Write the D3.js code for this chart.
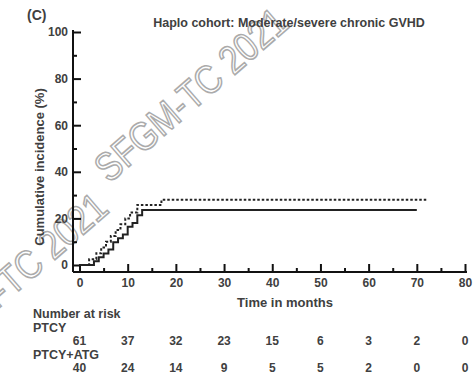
<!DOCTYPE html>
<html>
<head>
<meta charset="utf-8">
<script src="https://cdn.jsdelivr.net/npm/d3@7"></script>
<style>
  body { margin: 0; background: #fff; }
  svg { font-family: "Liberation Sans", Arial, sans-serif; }
</style>
</head>
<body>
<div id="chart"></div>
<script>
// step curves: [month, cumulative incidence %]
const ptcyCurve = [
  [0, 0], [3, 1.6], [4, 3.3], [5, 4.9], [6, 6.6], [7, 9.8], [8, 11.5],
  [9, 13.1], [10, 16.4], [11, 18], [12, 21.3], [13, 23.6], [70, 23.6]
];
const atgCurve = [
  [0, 0], [2, 2.5], [3.5, 5], [4.5, 7.5], [5.5, 10], [6.5, 12.5], [7.5, 15],
  [8.5, 17.5], [9.5, 20], [10.5, 22.5], [12, 25.8], [17, 28], [72, 28]
];

const xTicks = [0, 10, 20, 30, 40, 50, 60, 70, 80];
const yTicks = [0, 20, 40, 60, 80, 100];
const riskPTCY = [61, 37, 32, 23, 15, 6, 3, 2, 0];
const riskATG = [40, 24, 14, 9, 5, 5, 2, 0, 0];

const width = 475, height = 375;
const textColor = "#404040";

const svg = d3.select("#chart").append("svg")
  .attr("width", width)
  .attr("height", height);

// watermark
const wm = svg.append("g").attr("class", "watermark");
[[193, 97], [13, 282]].forEach(p => {
  wm.append("text")
    .attr("transform", `translate(${p[0]},${p[1]}) rotate(-41)`)
    .attr("text-anchor", "middle")
    .attr("dominant-baseline", "middle")
    .attr("textLength", 240)
    .attr("lengthAdjust", "spacingAndGlyphs")
    .style("font-size", "40px")
    .style("fill", "none")
    .style("stroke", "#ababab")
    .style("stroke-width", 1.6)
    .text("SFGM-TC 2021");
});

const x = d3.scaleLinear().domain([0, 80]).range([79.5, 465]);
const y = d3.scaleLinear().domain([0, 100]).range([265, 32]);

const axisY0 = 272, axisX0 = 73;

// x axis
svg.append("g")
  .attr("transform", `translate(0,${axisY0})`)
  .call(d3.axisBottom(x).tickValues(xTicks).tickSizeInner(-8).tickSizeOuter(0).tickPadding(6));
svg.append("g")
  .attr("transform", `translate(0,${axisY0})`)
  .call(d3.axisBottom(x).tickValues(d3.range(5, 80, 10)).tickSizeInner(-4).tickSizeOuter(0).tickFormat(""));

// y axis
svg.append("g")
  .attr("transform", `translate(${axisX0},0)`)
  .call(d3.axisLeft(y).tickValues(yTicks).tickSizeInner(-8).tickSizeOuter(0).tickPadding(5));
svg.append("g")
  .attr("transform", `translate(${axisX0},0)`)
  .call(d3.axisLeft(y).tickValues(d3.range(10, 100, 20)).tickSizeInner(-4).tickSizeOuter(0).tickFormat(""));

svg.selectAll(".domain").remove();
svg.selectAll(".tick line").attr("stroke", "#111").attr("stroke-width", 2);
svg.selectAll(".tick text")
  .style("font-size", "12px")
  .style("font-weight", "bold")
  .style("fill", textColor)
  .style("font-family", "Liberation Sans, Arial, sans-serif");

// axis lines
svg.append("line")
  .attr("x1", axisX0).attr("x2", x(80) + 2)
  .attr("y1", axisY0).attr("y2", axisY0)
  .attr("stroke", "#111").attr("stroke-width", 2);
svg.append("line")
  .attr("x1", axisX0).attr("x2", axisX0)
  .attr("y1", y(100) - 2).attr("y2", axisY0)
  .attr("stroke", "#111").attr("stroke-width", 2);

// curves
const line = d3.line()
  .x(d => x(d[0]))
  .y(d => y(d[1]))
  .curve(d3.curveStepAfter);

svg.append("path")
  .datum(ptcyCurve)
  .attr("d", line)
  .attr("fill", "none")
  .attr("stroke", "#222")
  .attr("stroke-width", 2);

svg.append("path")
  .datum(atgCurve)
  .attr("d", line)
  .attr("fill", "none")
  .attr("stroke", "#222")
  .attr("stroke-width", 2)
  .attr("stroke-dasharray", "2.5,2");

// labels
const lab = svg.append("g")
  .style("font-weight", "bold")
  .style("fill", textColor);

lab.append("text")
  .attr("x", 27).attr("y", 20)
  .style("font-size", "14px")
  .text("(C)");

lab.append("text")
  .attr("x", 289).attr("y", 27)
  .attr("text-anchor", "middle")
  .style("font-size", "12.5px")
  .text("Haplo cohort: Moderate/severe chronic GVHD");

lab.append("text")
  .attr("transform", `translate(44,167) rotate(-90)`)
  .attr("text-anchor", "middle")
  .style("font-size", "13px")
  .text("Cumulative incidence (%)");

lab.append("text")
  .attr("x", 285).attr("y", 307)
  .attr("text-anchor", "middle")
  .style("font-size", "13px")
  .text("Time in months");

// number at risk table
const risk = lab.append("g").style("font-size", "12.5px");
risk.append("text").attr("x", 33).attr("y", 318).text("Number at risk");
risk.append("text").attr("x", 33).attr("y", 332).text("PTCY");
risk.append("text").attr("x", 33).attr("y", 359).text("PTCY+ATG");

risk.selectAll(".r1").data(riskPTCY).enter().append("text")
  .attr("x", (d, i) => x(xTicks[i]))
  .attr("y", 345)
  .attr("text-anchor", "middle")
  .style("font-size", "12px")
  .text(d => d);
risk.selectAll(".r2").data(riskATG).enter().append("text")
  .attr("x", (d, i) => x(xTicks[i]))
  .attr("y", 372)
  .attr("text-anchor", "middle")
  .style("font-size", "12px")
  .text(d => d);
</script>
</body>
</html>
